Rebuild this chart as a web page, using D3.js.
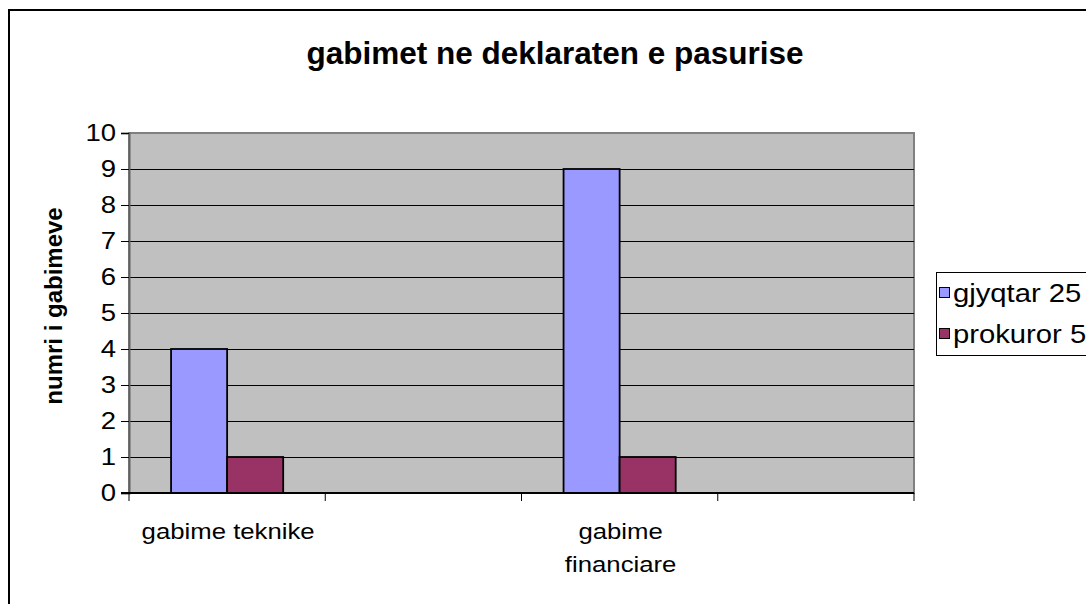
<!DOCTYPE html>
<html>
<head>
<meta charset="utf-8">
<script src="https://cdn.jsdelivr.net/npm/d3@7"></script>
<style>
  html, body { margin: 0; padding: 0; background: #ffffff; }
  svg text { font-family: "Liberation Sans", Arial, sans-serif; }
</style>
</head>
<body>
<svg id="chart" width="1086" height="604"></svg>
<script>
// ---- data ----
const categories = ["gabime teknike", "c2", "gabime financiare", "c4"];
const categoryLabels = [["gabime teknike"], [], ["gabime", "financiare"], []];
const seriesNames = ["gjyqtar 25", "prokuror 5"];
const gjyqtar = [4, null, 9, null];
const prokuror = [1, null, 1, null];
const yTicks = [0, 1, 2, 3, 4, 5, 6, 7, 8, 9, 10];
const colors = ["#9999FF", "#993366"];
const title = "gabimet ne deklaraten e pasurise";
const yTitle = "numri i gabimeve";

const SX = 1.17; // horizontal stretch of the small texts
const svg = d3.select("#chart");

// outer frame
svg.append("rect").attr("x", 9).attr("y", 10).attr("width", 1100).attr("height", 620)
  .attr("fill", "#fff").attr("stroke", "#000").attr("stroke-width", 2);

const plot = { left: 129, right: 914, top: 133, bottom: 493 };

const x = d3.scaleBand().domain(categories).range([plot.left, plot.right]).padding(0);
const groupW = x.bandwidth() * 0.5714;
const xs = d3.scaleBand().domain(seriesNames).range([0, groupW]).padding(0);
const y = d3.scaleLinear().domain([0, 10]).range([plot.bottom, plot.top]);

// plot area
svg.append("rect").attr("x", plot.left).attr("y", plot.top)
  .attr("width", plot.right - plot.left).attr("height", plot.bottom - plot.top)
  .attr("fill", "#C0C0C0").attr("stroke", "#808080").attr("stroke-width", 2);

// gridlines
svg.append("g").selectAll("line").data(yTicks.filter(t => t > 0 && t < 10)).join("line")
  .attr("x1", plot.left).attr("x2", plot.right)
  .attr("y1", d => Math.round(y(d)) + 0.5).attr("y2", d => Math.round(y(d)) + 0.5)
  .attr("stroke", "#000").attr("stroke-width", 1);

// bars
const series = [gjyqtar, prokuror];
series.forEach((vals, si) => {
  svg.append("g").selectAll("rect").data(categories.map((c, i) => ({ c, v: vals[i] })).filter(d => d.v != null))
    .join("rect")
    .attr("x", d => x(d.c) + (x.bandwidth() - groupW) / 2 + xs(seriesNames[si]))
    .attr("y", d => y(d.v))
    .attr("width", xs.bandwidth())
    .attr("height", d => y(0) - y(d.v))
    .attr("fill", colors[si]).attr("stroke", "#000").attr("stroke-width", 1.8);
});

// y axis (line + ticks via d3 axis, labels stretched manually)
const yAxis = d3.axisLeft(y).tickValues(yTicks).tickSize(8).tickFormat("");
const gy = svg.append("g").attr("transform", `translate(${plot.left},0)`).call(yAxis);
gy.select(".domain").attr("stroke", "#606060").attr("stroke-width", 2);
gy.selectAll(".tick line").attr("stroke", "#000");
svg.append("g").selectAll("text").data(yTicks).join("text")
  .attr("transform", d => `translate(116,${y(d)}) scale(${SX},1)`)
  .attr("dy", "0.36em").attr("text-anchor", "end")
  .attr("font-size", 23.5).attr("fill", "#000").text(d => d3.format("d")(d));

// x axis line + ticks at band boundaries
const xAxisG = svg.append("g");
xAxisG.append("line").attr("x1", plot.left - 8).attr("x2", plot.right)
  .attr("y1", y(0)).attr("y2", y(0)).attr("stroke", "#000").attr("stroke-width", 2);
const boundaries = categories.map(c => x(c)).concat([x(categories[categories.length - 1]) + x.bandwidth()]);
xAxisG.selectAll("line.tk").data(boundaries).join("line").attr("class", "tk")
  .attr("x1", d => d).attr("x2", d => d).attr("y1", y(0)).attr("y2", y(0) + 8)
  .attr("stroke", "#000").attr("stroke-width", 1);

// category labels
categories.forEach((c, i) => {
  categoryLabels[i].forEach((ln, j) => {
    svg.append("text")
      .attr("transform", `translate(${x(c) + x.bandwidth() / 2 + 1},${539 + j * 33}) scale(${SX},1)`)
      .attr("text-anchor", "middle").attr("font-size", 22).attr("fill", "#000").text(ln);
  });
});

// title
svg.append("text").attr("x", 555).attr("y", 64).attr("text-anchor", "middle")
  .attr("font-size", 31.5).attr("font-weight", "bold").attr("fill", "#000").text(title);

// y title
svg.append("text").attr("transform", "translate(62,306) rotate(-90)").attr("text-anchor", "middle")
  .attr("font-size", 24).attr("font-weight", "bold").attr("fill", "#000").text(yTitle);

// legend
const lg = svg.append("g");
lg.append("rect").attr("x", 936.5).attr("y", 272.5).attr("width", 200).attr("height", 83)
  .attr("fill", "#fff").attr("stroke", "#000").attr("stroke-width", 1);
const rowsY = [293, 334];
seriesNames.forEach((n, i) => {
  lg.append("rect").attr("x", 939.5).attr("y", rowsY[i] - 5.5).attr("width", 10).attr("height", 10)
    .attr("fill", colors[i]).attr("stroke", "#000").attr("stroke-width", 1);
  lg.append("text").attr("transform", `translate(953,${rowsY[i]}) scale(${SX},1)`).attr("dy", "0.35em")
    .attr("font-size", 25).attr("fill", "#000").text(n);
});
</script>
</body>
</html>
